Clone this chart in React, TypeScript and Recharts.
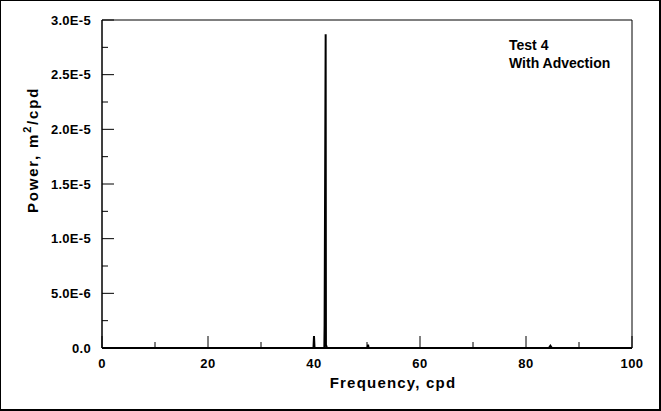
import React from "react";
import { LineChart, Line, XAxis, YAxis, ReferenceArea } from "recharts";

// spectrum: frequency (cpd) and power (m2/cpd)
const freq = [0, 39.9, 40.0, 40.1, 41.95, 42.0, 42.2, 42.25, 42.45, 50.1, 50.2, 50.3, 84.3, 84.6, 84.9, 100];
const power = [0, 0, 1.1e-6, 0, 0, 2.1e-6, 2.87e-5, 3e-7, 0, 0, 3e-7, 0, 0, 2e-7, 0, 0];

const xTicks = [0, 10, 20, 30, 40, 50, 60, 70, 80, 90, 100];
const xMajor = [0, 20, 40, 60, 80, 100];

const yTicks = [0, 2.5e-6, 5e-6, 7.5e-6, 1e-5, 1.25e-5, 1.5e-5, 1.75e-5, 2e-5, 2.25e-5, 2.5e-5, 2.75e-5, 3e-5];
const yMajor = [0, 5e-6, 1e-5, 1.5e-5, 2e-5, 2.5e-5, 3e-5];
const yLabels = ["0.0", "5.0E-6", "1.0E-5", "1.5E-5", "2.0E-5", "2.5E-5", "3.0E-5"];

const data = freq.map((f, i) => ({ f, p: power[i] }));

const FONT = "'Liberation Sans', Arial, sans-serif";
const GAP = 11;

const XTick = (props: any) => {
  const { x, y, payload } = props;
  const major = xMajor.indexOf(payload.value) >= 0;
  const base = y - GAP;
  return (
    <g>
      <line x1={x} x2={x} y1={base} y2={base - (major ? 12 : 6)} stroke="#000" />
      {major && (
        <text x={x} y={y} dy="0.71em" textAnchor="middle" fontFamily={FONT} fontWeight="bold" fontSize={13} letterSpacing={0.4} fill="#000">
          {payload.value}
        </text>
      )}
    </g>
  );
};

const YTick = (props: any) => {
  const { x, y, payload } = props;
  const idx = yMajor.indexOf(payload.value);
  const base = x + GAP;
  return (
    <g>
      <line x1={base} x2={base + (idx >= 0 ? 12 : 6)} y1={y} y2={y} stroke="#000" />
      {idx >= 0 && (
        <text x={x} y={y} dy="0.355em" textAnchor="end" fontFamily={FONT} fontWeight="bold" fontSize={13} letterSpacing={0.3} fill="#000">
          {yLabels[idx]}
        </text>
      )}
    </g>
  );
};

const XLabel = () => (
  <text x={393} y={388} textAnchor="middle" fontFamily={FONT} fontWeight="bold" fontSize={15} letterSpacing={1.2} fill="#000">
    Frequency, cpd
  </text>
);

const YLabel = () => (
  <text
    x={38}
    y={150}
    transform="rotate(-90, 38, 150)"
    textAnchor="middle"
    fontFamily={FONT}
    fontWeight="bold"
    fontSize={15}
    letterSpacing={1.8}
    fill="#000"
  >
    Power, m
    <tspan dy={-7} fontSize={11}>2</tspan>
    <tspan dy={7}>/cpd</tspan>
  </text>
);

export default function App() {
  return (
    <div style={{ position: "absolute", left: 0, top: 0, width: 661, height: 411, background: "#fff" }}>
      <LineChart width={661} height={411} data={data} margin={{ top: 20, right: 29, left: 0, bottom: 0 }}>
        <XAxis
          dataKey="f"
          type="number"
          domain={[0, 100]}
          ticks={xTicks}
          interval={0}
          height={63}
          tickSize={0}
          tickMargin={GAP}
          tickLine={false}
          tick={<XTick />}
          axisLine={{ stroke: "#000", strokeWidth: 2 }}
          label={<XLabel />}
        />
        <YAxis
          type="number"
          domain={[0, 3e-5]}
          ticks={yTicks}
          interval={0}
          width={102}
          tickSize={0}
          tickMargin={GAP}
          tickLine={false}
          tick={<YTick />}
          axisLine={{ stroke: "#000", strokeWidth: 1 }}
          label={<YLabel />}
        />
        <ReferenceArea x1={0} x2={100} y1={0} y2={3e-5} fill="none" stroke="#000" strokeWidth={1} />
        <Line
          type="linear"
          dataKey="p"
          stroke="#000"
          strokeWidth={2}
          dot={false}
          isAnimationActive={false}
        />
      </LineChart>
      <div
        style={{
          position: "absolute",
          left: 509,
          top: 36,
          fontFamily: FONT,
          fontWeight: "bold",
          fontSize: 14,
          lineHeight: "18px",
          color: "#000",
        }}
      >
        Test 4
        <br />
        With Advection
      </div>
      <div
        style={{
          position: "absolute",
          left: 0,
          top: 0,
          width: 661,
          height: 411,
          boxSizing: "border-box",
          borderTop: "1px solid #000",
          borderLeft: "1px solid #000",
          borderRight: "2px solid #000",
          borderBottom: "2px solid #000",
          pointerEvents: "none",
        }}
      />
    </div>
  );
}
